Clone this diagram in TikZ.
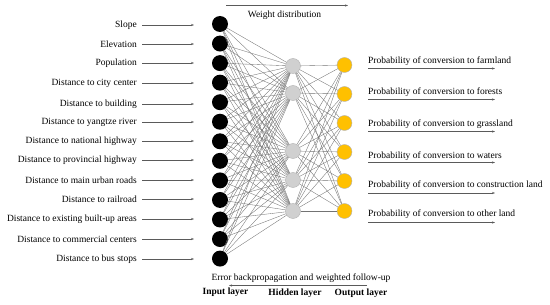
\documentclass[tikz,border=0pt]{standalone}
\usepackage{fontspec}
\setmainfont{Liberation Serif}
\usetikzlibrary{arrows.meta}
\definecolor{gold}{RGB}{255,192,0}
\definecolor{hidgray}{RGB}{208,208,208}
\definecolor{edgegray}{RGB}{115,115,115}
\definecolor{arrgray}{RGB}{90,90,90}
\begin{document}
\begin{tikzpicture}[x=1pt,y=-1pt,
  font=\fontsize{9.5}{11}\selectfont,
  inp/.style={circle,fill=black,minimum size=16pt,inner sep=0pt},
  hid/.style={circle,fill=hidgray,draw=gray!60,line width=0.4pt,minimum size=15pt,inner sep=0pt},
  outn/.style={circle,fill=gold,draw=gray!60,line width=0.4pt,minimum size=15pt,inner sep=0pt},
  conn/.style={edgegray,line width=0.35pt},
  arr/.style={-{Stealth[length=3pt,width=2.2pt]},arrgray,line width=0.5pt},
  inlab/.style={anchor=east,inner sep=0pt},
  outlab/.style={anchor=west,inner sep=0pt},
  layerlab/.style={font=\fontsize{9.5}{11}\selectfont\bfseries,inner sep=0pt}]
\useasboundingbox (0,0) rectangle (550,305);

% input layer nodes
\foreach \i in {1,...,13} {
  \node[inp] (in\i) at (220,{24+(\i-1)*19.55}) {};
}
% hidden layer nodes
\foreach \y [count=\j] in {66,93,151,180,211} {
  \node[hid] (h\j) at (293,\y) {};
}
% output layer nodes
\foreach \y [count=\k] in {65,94,123,152,181,211} {
  \node[outn] (o\k) at (344.5,\y) {};
}

% connections
\foreach \i in {1,...,13} {
  \foreach \j in {1,...,5} {
    \draw[conn] (in\i) -- (h\j);
  }
}
\foreach \j in {1,...,5} {
  \foreach \k in {1,...,6} {
    \draw[conn] (h\j) -- (o\k);
  }
}

% input labels and arrows
\foreach \y/\t [count=\i] in {
  25/Slope,
  44/Elevation,
  63/Population,
  83/Distance to city center,
  104/Distance to building,
  122/Distance to yangtze river,
  141/Distance to national highway,
  160/Distance to provincial highway,
  180/Distance to main urban roads,
  199/Distance to railroad,
  219/Distance to existing built-up areas,
  239/Distance to commercial centers,
  259/Distance to bus stops} {
  \node[inlab] (l\i) at (137,\y) {\t};
  \coordinate (e\i) at (194,\y);
  \draw[arr] ([xshift=5pt]l\i.east) -- (e\i);
}

% output labels and arrows
\foreach \ty/\ay/\t [count=\k] in {
  61/68.5/farmland,
  92/99.5/forests,
  124.5/131.5/grassland,
  156/162.5/waters,
  185.5/193/construction land,
  214.5/222.5/other land} {
  \node[outlab] (p\k) at (368,\ty) {Probability of conversion to \t};
  \coordinate (ps\k) at (368,\ay);
  \coordinate (pe\k) at (495,\ay);
  \draw[arr] (ps\k) -- (pe\k);
}

% weight distribution
\coordinate (w1) at (226,5.5);
\coordinate (w2) at (348,5.5);
\draw[arr] (w1) -- (w2);
\node[inner sep=0pt] (wd) at (284.5,15) {Weight distribution};

% error backpropagation
\node[inner sep=0pt] (eb) at (301,278) {Error backpropagation and weighted follow-up};
\coordinate (b1) at (367,285.5);
\coordinate (b2) at (229,285.5);
\draw[arr] (b1) -- (b2);

% layer labels
\node[layerlab] (il) at (225.5,292.5) {Input layer};
\node[layerlab] (hl) at (295,293.5) {Hidden layer};
\node[layerlab] (ol) at (361,293) {Output layer};
\end{tikzpicture}
\end{document}
